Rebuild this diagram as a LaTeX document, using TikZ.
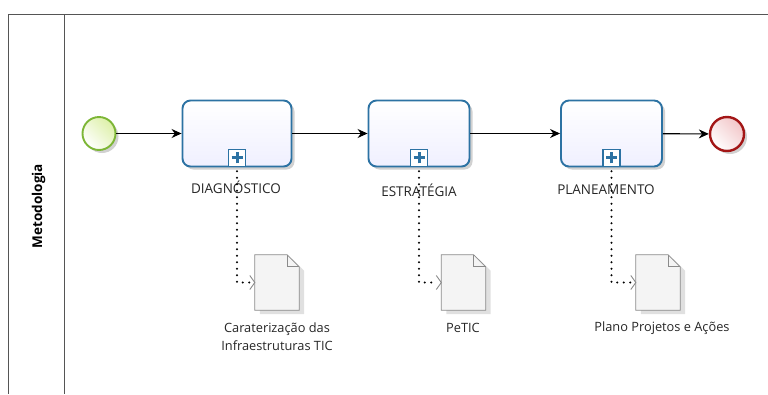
\documentclass[tikz,border=0pt]{standalone}
\usepackage{fontspec}
\setmainfont{Open Sans}
\usetikzlibrary{arrows.meta,shadows}
\definecolor{taskblue}{HTML}{2C72A3}
\definecolor{startgreen}{HTML}{7DB636}
\definecolor{startfill}{HTML}{DDF0A8}
\definecolor{endred}{HTML}{A31616}
\definecolor{endfill}{HTML}{F2C6C8}
\definecolor{docgray}{HTML}{8A8A8A}
\definecolor{docfill}{HTML}{F4F4F4}
\definecolor{poolline}{HTML}{555555}
\begin{document}
\begin{tikzpicture}[x=1pt,y=-1pt,
  softshadow/.style={drop shadow={shadow xshift=3pt,shadow yshift=-3pt,opacity=.18,fill=black}},
  task/.style={draw=taskblue,line width=1.9pt,rounded corners=8pt,
    top color=white,bottom color=blue!6,minimum height=66pt,softshadow},
  submarker/.style={draw=taskblue,line width=1.5pt,fill=white,minimum size=17pt,inner sep=0pt},
  tasklabel/.style={font=\fontsize{13.5}{15}\selectfont,text=black!85},
  startev/.style={circle,draw=startgreen,line width=1.9pt,minimum size=33pt,inner sep=0pt,
    left color=white,right color=startfill,shading angle=135,softshadow},
  endev/.style={circle,draw=endred,line width=2.4pt,minimum size=34pt,inner sep=0pt,
    left color=white,right color=endfill,shading angle=135,softshadow},
  docnode/.style={minimum width=44pt,minimum height=55pt,inner sep=0pt},
  docshape/.style={draw=docgray,line width=.8pt,fill=docfill,
    drop shadow={shadow xshift=5pt,shadow yshift=-4pt,opacity=.12,fill=black}},
  doclabel/.style={font=\fontsize{12.8}{18}\selectfont,align=center,text=black!85},
  seqflow/.style={draw=black,line width=1.1pt,-{Stealth[length=10pt,width=9pt]}},
  assoc/.style={draw=black,line width=2.3pt,line cap=round,dash pattern=on 0pt off 6.5pt},
  chevron/.style={draw=docgray,line width=.9pt}
]
\useasboundingbox (0,0) rectangle (768,394);

% pool and lane header
\draw[poolline,line width=.9pt] (768,14) -- (8,14) -- (8,394);
\draw[poolline,line width=.9pt] (64,14) -- (64,394);
\node[rotate=90,font=\bfseries\fontsize{13.5}{15}\selectfont] (lane) at (38.5,206) {Metodologia};

% events and sub-processes
\node[startev] (start) at (99,133.5) {};
\node[task,minimum width=109pt] (t1) at (237,133.5) {};
\node[task,minimum width=101pt] (t2) at (419,133.5) {};
\node[task,minimum width=101pt] (t3) at (611.5,133.5) {};
\node[endev] (end) at (727,134) {};

% collapsed sub-process markers
\foreach \t in {1,2,3}{
  \node[submarker] (m\t) at ([yshift=9.5pt]t\t.south) {};
  \draw[taskblue,line width=3pt] ([xshift=-5.5pt]m\t.center) -- ([xshift=5.5pt]m\t.center);
  \draw[taskblue,line width=3pt] ([yshift=-5.5pt]m\t.center) -- ([yshift=5.5pt]m\t.center);
}

% task names
\node[tasklabel] (l1) at (236,187) {DIAGNÓSTICO};
\node[tasklabel] (l2) at (419,190) {ESTRATÉGIA};
\node[tasklabel] (l3) at (606,190) {PLANEAMENTO};

% sequence flows
\draw[seqflow] (start) -- (t1);
\draw[seqflow] (t1) -- (t2);
\draw[seqflow] (t2) -- (t3);
\draw[seqflow] (t3) -- (end);

% data objects
\node[docnode] (d1) at (277,282.5) {};
\node[docnode] (d2) at (463.5,282.5) {};
\node[docnode] (d3) at (658,282.5) {};
\foreach \d in {1,2,3}{
  \draw[docshape] (d\d.north west) -- ([xshift=-12pt]d\d.north east)
    -- ([yshift=-12pt]d\d.north east) -- (d\d.south east) -- (d\d.south west) -- cycle;
  \draw[docgray,line width=.8pt] ([xshift=-12pt]d\d.north east)
    -- ([xshift=-12pt,yshift=-12pt]d\d.north east) -- ([yshift=-12pt]d\d.north east);
}

\node[doclabel] (dl1) at (277,337) {Caraterização das\\Infraestruturas TIC};
\node[doclabel] (dl2) at (463,328) {PeTIC};
\node[doclabel] (dl3) at (662,328) {Plano Projetos e Ações};

% data associations
\foreach \d in {1,2,3}{
  \draw[assoc] ([yshift=-4pt]m\d.south) -- (m\d.south |- d\d.west) -- ([xshift=-5pt]d\d.west);
  \draw[chevron] ([xshift=-5pt,yshift=7pt]d\d.west) -- (d\d.west) -- ([xshift=-5pt,yshift=-7pt]d\d.west);
}
\end{tikzpicture}
\end{document}
